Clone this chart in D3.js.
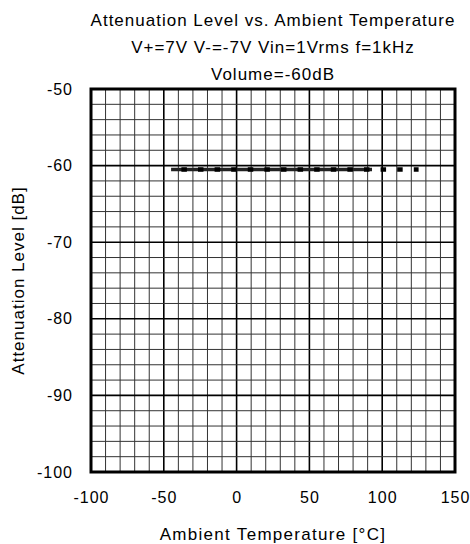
<!DOCTYPE html>
<html><head><meta charset="utf-8">
<script src="https://cdn.jsdelivr.net/npm/d3@7"></script>
<style>body{margin:0;background:#fff}svg{display:block;font-family:Arial,"Liberation Sans",sans-serif}</style>
</head><body>
<script>
const titleLines = ["Attenuation Level vs. Ambient Temperature", "V+=7V V-=-7V Vin=1Vrms f=1kHz", "Volume=-60dB"];
const xTicks = [-100, -50, 0, 50, 100, 150];
const yTicks = [-50, -60, -70, -80, -90, -100];
const xLabel = "Ambient Temperature [°C]";
const yLabel = "Attenuation Level [dB]";
// solid connecting line
const temps1 = [-45, -25, 0, 25, 50, 75, 93];
const atten1 = [-60.5, -60.5, -60.5, -60.5, -60.5, -60.5, -60.5];
// dashed series
const temps2 = [-45, -25, 0, 25, 50, 75, 100, 125];
const atten2 = [-60.5, -60.5, -60.5, -60.5, -60.5, -60.5, -60.5, -60.5];

const W = 470, H = 544;
const m = {l: 91, r: 15, t: 89, b: 72};
const svg = d3.select("body").append("svg").attr("width", W).attr("height", H);
const x = d3.scaleLinear().domain([-100, 150]).range([m.l, W - m.r]);
const y = d3.scaleLinear().domain([-100, -50]).range([H - m.b, m.t]);
const fmt = v => String(v);

const g = svg.append("g");
d3.range(-100, 151, 10).forEach(v => {
  const major = v % 50 === 0;
  g.append("line").attr("x1", x(v)).attr("x2", x(v)).attr("y1", y(-50)).attr("y2", y(-100))
    .attr("stroke", major ? "#000" : "#333").attr("stroke-width", major ? 1.6 : 1);
});
d3.range(-100, -49, 2).forEach(v => {
  const major = v % 10 === 0;
  g.append("line").attr("x1", x(-100)).attr("x2", x(150)).attr("y1", y(v)).attr("y2", y(v))
    .attr("stroke", major ? "#000" : "#333").attr("stroke-width", major ? 1.6 : 1);
});

// data
const line = d3.line().x(d => x(d[0])).y(d => y(d[1]));
svg.append("path").datum(temps1.map((t, i) => [t, atten1[i]]))
  .attr("d", line).attr("fill", "none").attr("stroke", "#222").attr("stroke-width", 3.5);
svg.append("path").datum(temps2.map((t, i) => [t, atten2[i]]))
  .attr("d", line).attr("fill", "none").attr("stroke", "#000").attr("stroke-width", 4.5)
  .attr("stroke-dasharray", "5.5,11.1").attr("stroke-dashoffset", 6.3);

// border
svg.append("rect").attr("x", x(-100)).attr("y", y(-50)).attr("width", x(150) - x(-100))
  .attr("height", y(-100) - y(-50)).attr("fill", "none").attr("stroke", "#000").attr("stroke-width", 3);

// axes
const xa = svg.append("g").attr("transform", `translate(0,${y(-100)})`)
  .call(d3.axisBottom(x).tickValues(xTicks).tickSize(0).tickPadding(0).tickFormat(fmt));
xa.select(".domain").remove();
xa.selectAll("text").attr("dy", null).attr("y", 31).attr("font-size", 16).attr("letter-spacing", 1)
  .attr("font-family", "Arial, 'Liberation Sans', sans-serif").attr("fill", "#000");
const ya = svg.append("g").attr("transform", `translate(${x(-100)},0)`)
  .call(d3.axisLeft(y).tickValues(yTicks).tickSize(0).tickPadding(18).tickFormat(fmt));
ya.select(".domain").remove();
ya.selectAll("text").attr("font-size", 16).attr("letter-spacing", 1)
  .attr("font-family", "Arial, 'Liberation Sans', sans-serif").attr("fill", "#000");

// titles
const cx = (x(-100) + x(150)) / 2;
titleLines.forEach((t, i) => {
  svg.append("text").attr("x", cx).attr("y", 26 + i * 27).attr("text-anchor", "middle")
    .attr("font-size", 17).attr("letter-spacing", 1).text(t);
});
svg.append("text").attr("x", cx).attr("y", 540).attr("text-anchor", "middle")
  .attr("font-size", 17).attr("letter-spacing", 1.3).text(xLabel);
svg.append("text").attr("transform", `translate(24,${(y(-50) + y(-100)) / 2}) rotate(-90)`)
  .attr("text-anchor", "middle").attr("font-size", 17).attr("letter-spacing", 1).text(yLabel);
</script>
</body></html>
